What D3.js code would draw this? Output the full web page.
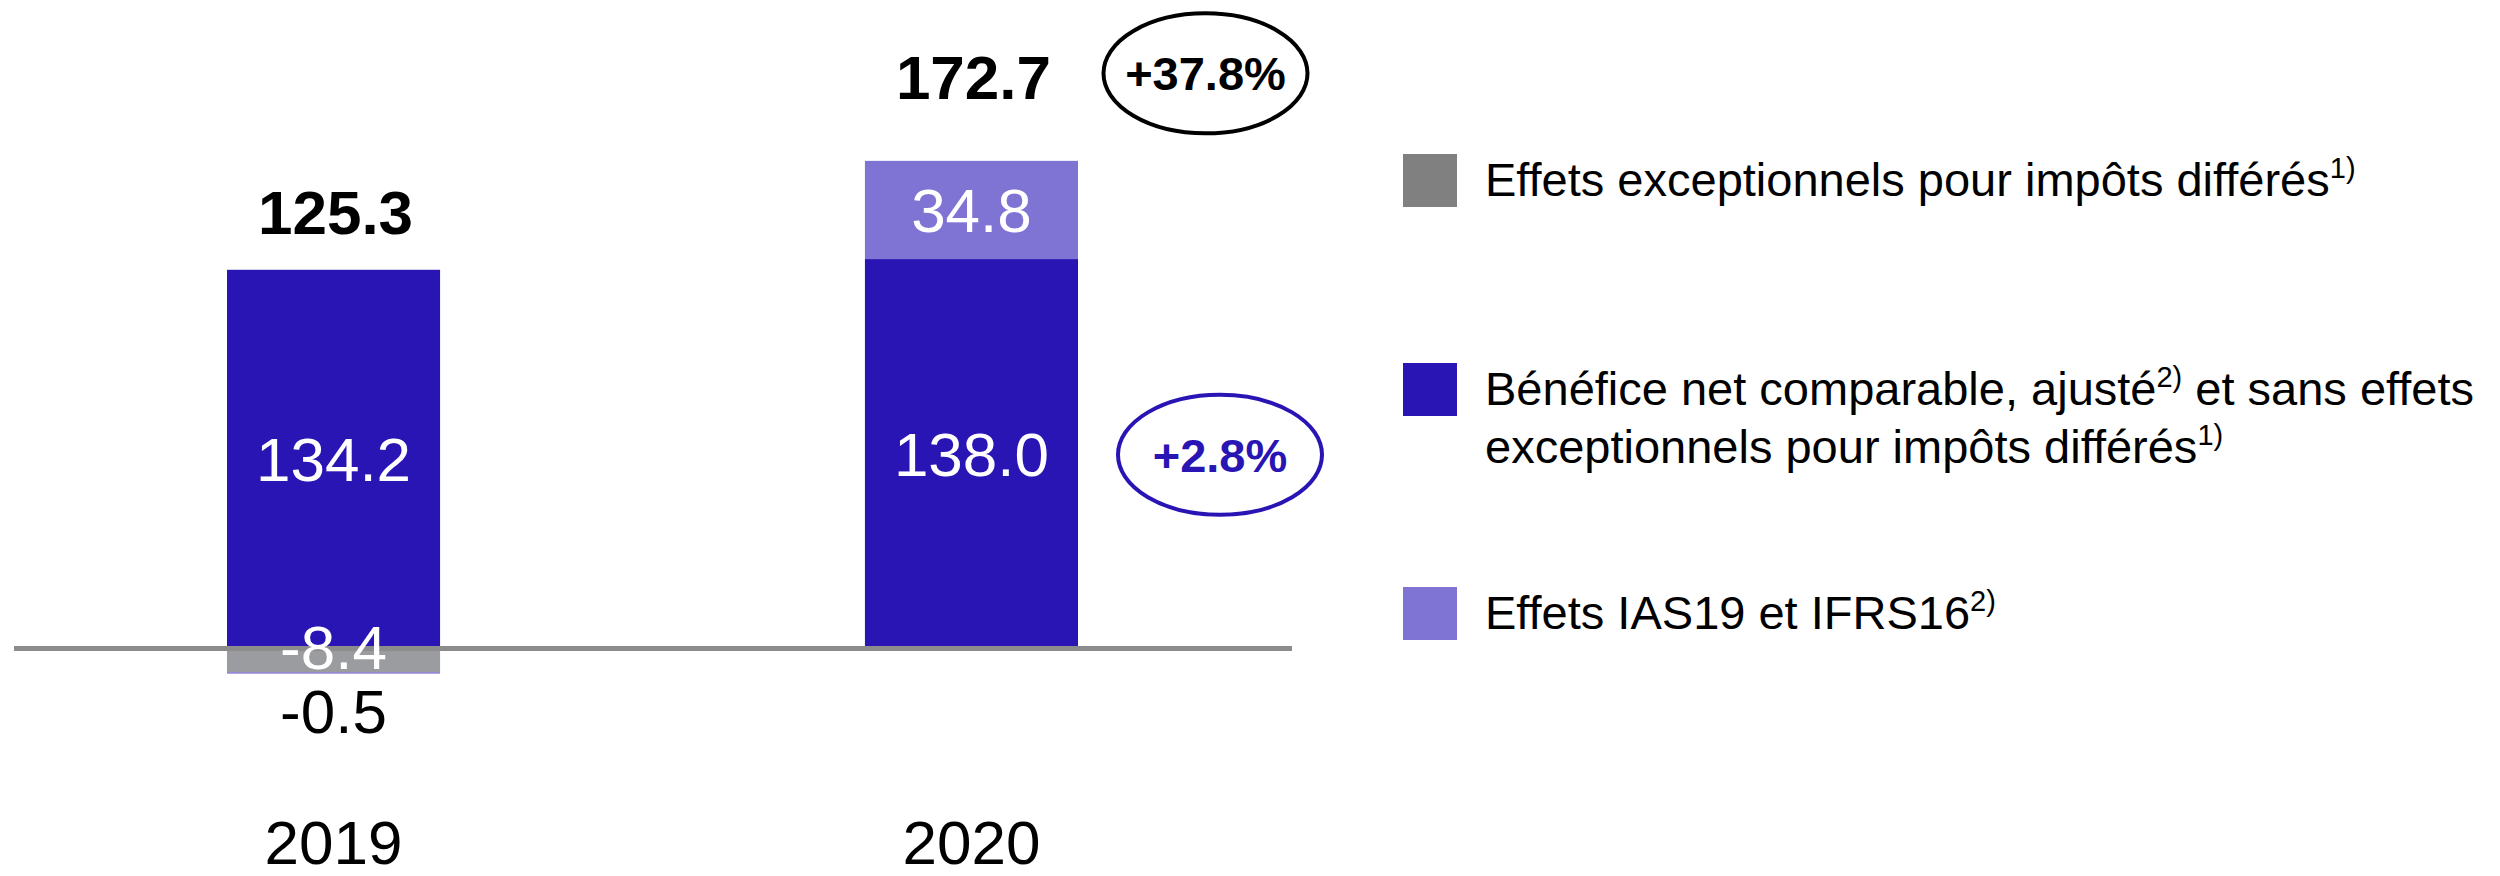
<!DOCTYPE html>
<html>
<head>
<meta charset="utf-8">
<script src="https://cdn.jsdelivr.net/npm/d3@7"></script>
<style>
  html, body { margin: 0; padding: 0; background: #ffffff; }
  svg { display: block; }
  text { font-family: "Liberation Sans", Arial, sans-serif; }
</style>
</head>
<body>
<svg id="chart" width="2500" height="876"></svg>
<script>
// ---- data ----
const categories = ["2019", "2020"];
const seriesKeys = ["deferred", "comparable", "ias"];
const seriesLabels = [
  ["Effets exceptionnels pour impôts différés", "1)"],
  ["Bénéfice net comparable, ajusté", "2)", " et sans effets"],
  ["Effets IAS19 et IFRS16", "2)"]
];
const legendLine2 = ["exceptionnels pour impôts différés", "1)"];
const deferredValues = [-8.4, 0];
const comparableValues = [134.2, 138.0];
const iasValues = [-0.5, 34.8];
const totalLabels = ["125.3", "172.7"];
const growthLabels = ["+37.8%", "+2.8%"];

const colors = { deferred: "#9a9c9f", comparable: "#2914b4", ias: "#7f73d3" };
const legendColors = ["#808080", "#2914b4", "#7f73d3"];

const rows = categories.map((c, i) => ({
  cat: c, deferred: deferredValues[i], comparable: comparableValues[i], ias: iasValues[i]
}));

const svg = d3.select("#chart");
const x = d3.scaleBand().domain(categories).range([227, 1078]).paddingInner(0.666).paddingOuter(0);
const y = d3.scaleLinear().domain([-20, 180]).range([648.5 + 20 * 2.822, 648.5 - 180 * 2.822]);

const stack = d3.stack().keys(seriesKeys).offset(d3.stackOffsetDiverging);
const series = stack(rows);

const fmt = v => v.toFixed(1);

// bars
const g = svg.append("g");
series.forEach(s => {
  g.selectAll(null).data(s).enter().append("rect")
    .attr("x", d => x(d.data.cat))
    .attr("width", x.bandwidth())
    .attr("y", d => y(Math.max(d[0], d[1])))
    .attr("height", d => Math.abs(y(d[0]) - y(d[1])))
    .attr("fill", colors[s.key]);
});

// zero line
svg.append("line")
  .attr("x1", 14).attr("x2", 1292)
  .attr("y1", y(0)).attr("y2", y(0))
  .attr("stroke", "#8c8c8c").attr("stroke-width", 5);

// segment labels
series.forEach(s => {
  s.forEach(d => {
    const v = d.data[s.key];
    if (v === 0) return;
    const cx = x(d.data.cat) + x.bandwidth() / 2;
    const top = y(Math.max(d[0], d[1])), bot = y(Math.min(d[0], d[1]));
    let baseline, fill = "#ffffff";
    if (bot - top > 60) {
      baseline = (top + bot) / 2 + 22;
    } else if (d[0] === 0 || d[1] === 0) {
      baseline = y(0) + 20;
    } else {
      baseline = bot + 59;
      fill = "#000000";
    }
    svg.append("text")
      .attr("x", cx).attr("y", baseline)
      .attr("text-anchor", "middle")
      .attr("font-size", 62)
      .attr("fill", fill)
      .text(fmt(v));
  });
});

// totals
const tops = categories.map((c, i) => d3.max(series, s => s[i][1]));
categories.forEach((c, i) => {
  const cx = x(c) + x.bandwidth() / 2 + 2;
  const baseline = i === 0 ? y(tops[i]) - 36 : y(tops[i]) - 62;
  svg.append("text")
    .attr("x", cx).attr("y", baseline)
    .attr("text-anchor", "middle")
    .attr("font-size", 62).attr("font-weight", "bold")
    .attr("fill", "#000")
    .text(totalLabels[i]);
});

// growth ellipses
const right2020 = x("2020") + x.bandwidth();
const ell = [
  { cx: right2020 + 127.5, cy: y(tops[1]) - 87.5, color: "#000000", label: growthLabels[0] },
  { cx: right2020 + 142, cy: (y(0) + y(comparableValues[1])) / 2 + 1, color: "#2914b4", label: growthLabels[1] }
];
ell.forEach(e => {
  svg.append("ellipse")
    .attr("cx", e.cx).attr("cy", e.cy)
    .attr("rx", 102).attr("ry", 60)
    .attr("fill", "none").attr("stroke", e.color).attr("stroke-width", 4);
  svg.append("text")
    .attr("x", e.cx).attr("y", e.cy + 17)
    .attr("text-anchor", "middle")
    .attr("font-size", 47).attr("font-weight", "bold")
    .attr("fill", e.color)
    .text(e.label);
});

// x axis labels
categories.forEach(c => {
  svg.append("text")
    .attr("x", x(c) + x.bandwidth() / 2)
    .attr("y", 864)
    .attr("text-anchor", "middle")
    .attr("font-size", 62)
    .attr("fill", "#000")
    .text(c);
});

// legend
const legX = 1403, textX = 1485;
const legTops = [154, 363, 587];
function supText(sel, parts) {
  parts.forEach((p, k) => {
    const isSup = /^\d\)$/.test(p);
    const t = sel.append("tspan").text(p);
    if (isSup) t.attr("font-size", 29).attr("dy", -18);
    else if (k > 0 && /^\d\)$/.test(parts[k - 1])) t.attr("dy", 18);
  });
}
seriesLabels.forEach((parts, i) => {
  svg.append("rect")
    .attr("x", legX).attr("y", legTops[i])
    .attr("width", 54).attr("height", 53)
    .attr("fill", legendColors[i]);
  const t = svg.append("text")
    .attr("x", textX).attr("y", legTops[i] + 42)
    .attr("font-size", 47).attr("fill", "#000");
  supText(t, parts);
});
const t2 = svg.append("text")
  .attr("x", textX).attr("y", legTops[1] + 42 + 58)
  .attr("font-size", 47).attr("fill", "#000");
supText(t2, legendLine2);
</script>
</body>
</html>
